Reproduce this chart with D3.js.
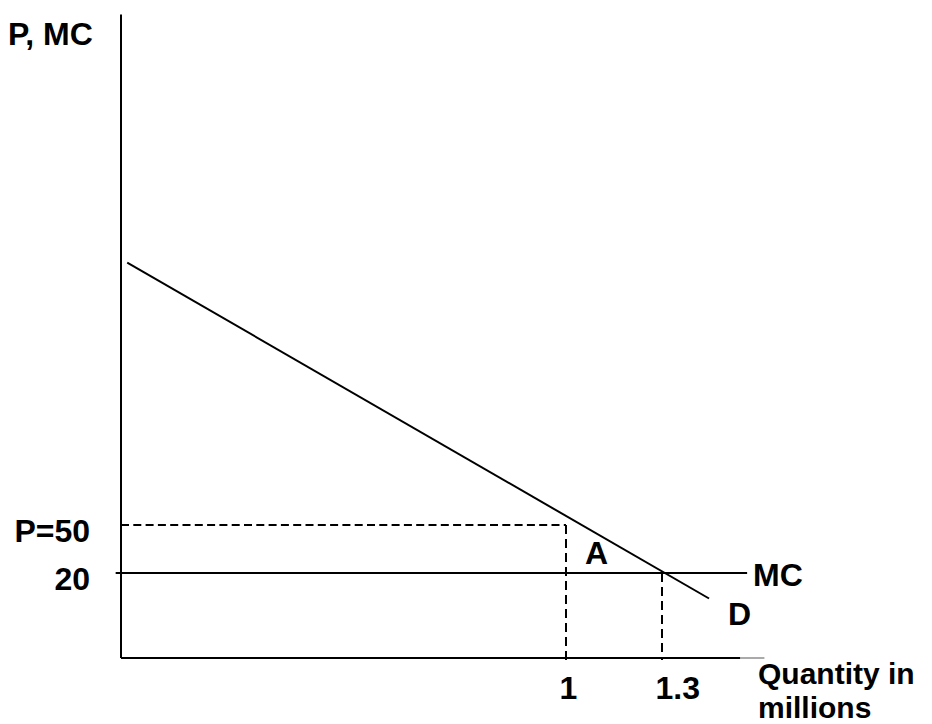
<!DOCTYPE html>
<html>
<head>
<meta charset="utf-8">
<script src="https://cdn.jsdelivr.net/npm/d3@7/dist/d3.min.js"></script>
<style>
  html, body { margin: 0; padding: 0; background: #fff; }
  text { font-family: "Liberation Sans", Arial, sans-serif; font-weight: bold; fill: #000; }
</style>
</head>
<body>
<svg id="chart" width="932" height="724"></svg>
<script>
// ---- data (schematic diagram: quantity in millions, price) ----
const qTicks = [1, 1.3];                 // labelled quantities
const qTickLabels = ["1", "1.3"];
const pTicks = [20, 50];                 // labelled prices
const pTickLabels = ["20", "P=50"];
const demand = [ { q: 0.014, p: 214 }, { q: 1.447, p: 14 } ];   // D line endpoints
const mcPrice = 20;                       // constant marginal cost
const mcRange = [-0.012, 1.566];
const qAxisMax = 1.545;
const pAxisMax = 369;
const priceLine = { q: 1, p: 50 };        // dashed guide to P=50
const eqPoint = { q: 1.3, p: 20 };        // D meets MC

const svg = d3.select("#chart");

// Not drawn to scale: piecewise linear scales through the labelled values
const x = d3.scaleLinear().domain([0, 1, 1.3]).range([121, 566, 662]);
const y = d3.scaleLinear().domain([0, 20, 50]).range([658, 573, 525]);

// axes lines
svg.append("line").attr("x1", x(0)).attr("x2", x(0)).attr("y1", y(pAxisMax)).attr("y2", y(0))
  .attr("stroke", "#000").attr("stroke-width", 2);
svg.append("line").attr("x1", x(0)).attr("x2", x(qAxisMax)).attr("y1", y(0)).attr("y2", y(0))
  .attr("stroke", "#000").attr("stroke-width", 2);
svg.append("line").attr("x1", x(qAxisMax)).attr("x2", x(qAxisMax) + 24).attr("y1", y(0)).attr("y2", y(0))
  .attr("stroke", "#aaa").attr("stroke-width", 2);

// tick labels through d3 axes
const yAxis = d3.axisLeft(y).tickValues(pTicks).tickSize(0).tickPadding(31)
  .tickFormat((d, i) => pTickLabels[i]);
const gy = svg.append("g").attr("transform", `translate(${x(0)},0)`).call(yAxis);
gy.select(".domain").remove();
gy.selectAll("text").attr("dy", "0.5em").style("font-size", "32px")
  .style("font-family", '"Liberation Sans", Arial, sans-serif').style("font-weight", "bold").attr("fill", "#000");

const xAxis = d3.axisBottom(x).tickValues(qTicks).tickSize(0).tickPadding(18)
  .tickFormat((d, i) => qTickLabels[i]);
const gx = svg.append("g").attr("transform", `translate(0,${y(0)})`).call(xAxis);
gx.select(".domain").remove();
gx.selectAll("text").attr("text-anchor", "start").attr("dx", -7).style("font-size", "32px")
  .style("font-family", '"Liberation Sans", Arial, sans-serif').style("font-weight", "bold").attr("fill", "#000");

// dashed guides
svg.append("line").attr("x1", x(0)).attr("x2", x(priceLine.q)).attr("y1", y(priceLine.p)).attr("y2", y(priceLine.p))
  .attr("stroke", "#000").attr("stroke-width", 2).attr("stroke-dasharray", "8,4.3");
svg.append("line").attr("x1", x(priceLine.q)).attr("x2", x(priceLine.q)).attr("y1", y(priceLine.p)).attr("y2", y(0) + 5)
  .attr("stroke", "#000").attr("stroke-width", 2).attr("stroke-dasharray", "9,5");
svg.append("line").attr("x1", x(eqPoint.q)).attr("x2", x(eqPoint.q)).attr("y1", y(eqPoint.p)).attr("y2", y(0) + 2)
  .attr("stroke", "#000").attr("stroke-width", 2).attr("stroke-dasharray", "9,5");

// MC line
svg.append("line").attr("x1", x(mcRange[0])).attr("x2", x(mcRange[1])).attr("y1", y(mcPrice)).attr("y2", y(mcPrice))
  .attr("stroke", "#000").attr("stroke-width", 2);

// Demand line
const line = d3.line().x(d => x(d.q)).y(d => y(d.p));
svg.append("path").datum(demand).attr("d", line)
  .attr("fill", "none").attr("stroke", "#000").attr("stroke-width", 2);

// labels
const lab = (txt, xx, yy, fs) => svg.append("text").attr("x", xx).attr("y", yy)
  .style("font-size", (fs || 32) + "px").text(txt);
lab("P, MC", 8, 45);
lab("MC", x(mcRange[1]) + 6, y(mcPrice) + 13);
lab("D", x(demand[1].q) + 19, 625);
lab("A", 585, 564);
lab("Quantity in", 758, 684, 30);
lab("millions", 758, 717.5, 30);
</script>
</body>
</html>
